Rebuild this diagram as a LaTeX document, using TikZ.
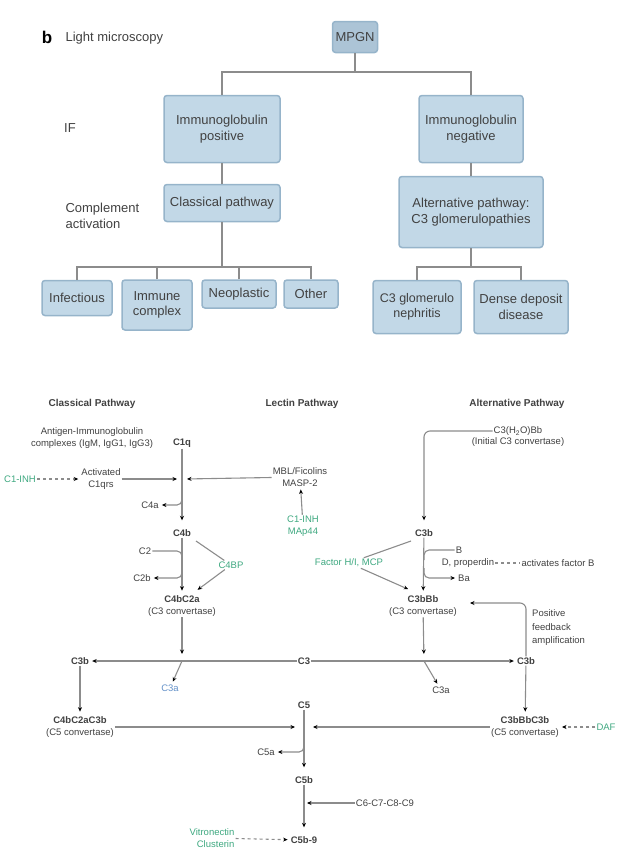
\documentclass[tikz,border=0pt]{standalone}
\usepackage{fontspec}
\setmainfont{Liberation Sans}
\usetikzlibrary{arrows.meta, positioning}
\definecolor{boxfill}{RGB}{194,216,231}
\definecolor{boxedge}{RGB}{150,180,202}
\definecolor{mpgnfill}{RGB}{172,196,214}
\definecolor{treegray}{RGB}{140,140,140}
\definecolor{inkgray}{RGB}{65,65,65}
\definecolor{inhgreen}{RGB}{62,168,128}
\definecolor{fragblue}{RGB}{100,145,200}

\begin{document}
\begin{tikzpicture}[x=1pt, y=-1pt,
box/.style={rectangle, draw=boxedge, line width=1.5pt, fill=boxfill, rounded corners=3pt, align=center, text=inkgray, font=\fontsize{13}{15.5}\selectfont, inner sep=2pt},
tree/.style={draw=treegray, line width=1.8pt},
side/.style={text=inkgray, font=\fontsize{13}{16}\selectfont, align=left},
mol/.style={text=inkgray, font=\fontsize{9.5}{11.5}\selectfont, align=center, inner sep=1pt},
inh/.style={mol, text=inhgreen},
head/.style={mol, font=\fontsize{10}{12}\selectfont\bfseries},
link/.style={draw=treegray, line width=1.1pt},
arrow/.style={link, -{Stealth[length=4.5pt, width=4pt, color=black]}, shorten >=2pt}]
\useasboundingbox (0,0) rectangle (626,857);

\node[font=\fontsize{17}{17}\selectfont\bfseries] (tag) at (47,37) {b};
\node[side, anchor=west] (lm) at (62,38) {Light microscopy};
\node[box, fill=mpgnfill, minimum width=45pt, minimum height=31pt] (mpgn) at (355,37) {MPGN};
\node[side] (iflbl) at (70,128) {IF};
\node[box, minimum width=116pt, minimum height=67pt] (igpos) at (222,129) {Immunoglobulin\\positive};
\node[box, minimum width=104pt, minimum height=67pt] (igneg) at (471,129) {Immunoglobulin\\negative};
\node[side, anchor=west] (compact) at (62,216) {Complement\\activation};
\node[box, minimum width=116pt, minimum height=37pt] (classical) at (222,203) {Classical pathway};
\node[box, minimum width=144pt, minimum height=71pt] (altpw) at (471,212) {Alternative pathway:\\C3 glomerulopathies};
\node[box, minimum width=70pt, minimum height=35pt] (infect) at (77,298) {Infectious};
\node[box, minimum width=70pt, minimum height=50pt] (immune) at (157,305) {Immune\\complex};
\node[box, minimum width=74pt, minimum height=28pt] (neo) at (239,294) {Neoplastic};
\node[box, minimum width=54pt, minimum height=28pt] (other) at (311,294) {Other};
\node[box, minimum width=88pt, minimum height=53pt, font=\fontsize{12.5}{15}\selectfont] (c3gn) at (417,307) {C3 glomerulo\\nephritis};
\node[box, minimum width=94pt, minimum height=53pt] (ddd) at (521,307) {Dense deposit\\disease};
\coordinate (bus1) at (0,72);
\coordinate (bus2) at (0,267);
\draw[tree] (mpgn.south) -- (mpgn.south |- bus1);
\draw[tree] (igpos.north) -- (igpos.north |- bus1) -- (igneg.north |- bus1) -- (igneg.north);
\draw[tree] (igpos.south) -- (classical.north);
\draw[tree] (classical.south) -- (classical.south |- bus2);
\draw[tree] (infect.north) -- (infect.north |- bus2) -- (other.north |- bus2) -- (other.north);
\draw[tree] (immune.north) -- (immune.north |- bus2);
\draw[tree] (neo.north) -- (neo.north |- bus2);
\draw[tree] (igneg.south) -- (altpw.north);
\draw[tree] (altpw.south) -- (altpw.south |- bus2);
\draw[tree] (c3gn.north) -- (c3gn.north |- bus2) -- (ddd.north |- bus2) -- (ddd.north);

\node[head] (clhead) at (92,404) {Classical Pathway};
\node[head] (lechead) at (302,404) {Lectin Pathway};
\node[head] (althead) at (517,404) {Alternative Pathway};
\node[mol] (agab) at (92,438) {Antigen-Immunoglobulin\\complexes (IgM, IgG1, IgG3)};
\node[mol] (c1q) at (182,443) {\textbf{C1q}};
\node[mol] (c1qrs) at (101,479) {Activated\\C1qrs};
\node[inh] (c1inh) at (20,479) {C1-INH};
\node[mol] (mbl) at (300,477) {MBL/Ficolins\\MASP-2};
\node[inh] (mblinh) at (303,526) {C1-INH\\MAp44};
\coordinate (jc1) at (182,479);
\node[mol] (c4a) at (150,505) {C4a};
\coordinate (jc4a) at (182,492);
\node[mol] (c4b) at (182,533) {\textbf{C4b}};
\node[mol] (c2) at (145,551) {C2};
\coordinate (jc2) at (182,563);
\node[mol] (c2b) at (142,578) {C2b};
\coordinate (jc2b) at (182,566);
\node[mol] (c4b2a) at (182,606) {\textbf{C4bC2a}\\(C3 convertase)};
\node[inh] (c4bp) at (231,565) {C4BP};
\coordinate (c4bpup) at (196,541);
\coordinate (c4bplow) at (196,591);

\node[mol] (c3h2o) at (518,431) {C3(H\textsubscript{2}O)Bb};
\node[mol, below=0pt of c3h2o] (c3h2oconv) {(Initial C3 convertase)};
\node[mol] (c3b) at (424,533) {\textbf{C3b}};
\node[mol] (fb) at (459,550) {B};
\coordinate (jb) at (424,560);
\node[mol] (fd) at (468,563) {D, properdin};
\node[mol] (fdact) at (558,563) {activates factor B};
\node[mol] (ba) at (464,578) {Ba};
\coordinate (jba) at (424,568);
\node[mol] (c3bbb) at (423,606) {\textbf{C3bBb}\\(C3 convertase)};
\node[inh] (fh) at (349,563) {Factor H/I, MCP};
\coordinate (fhup) at (411,541);
\coordinate (fhlow) at (410,590);
\coordinate (fbend) at (468,603);
\node[mol, anchor=west, align=left, font=\fontsize{9.5}{13.5}\selectfont] (posfb) at (531,628) {Positive\\feedback\\amplification};

\node[mol] (c3) at (304,661) {\textbf{C3}};
\node[mol] (c3bL) at (80,661) {\textbf{C3b}};
\node[mol] (c3bR) at (526,661) {\textbf{C3b}};
\coordinate (jl) at (182,661);
\coordinate (jr) at (424,661);
\node[mol, text=fragblue] (c3aL) at (170,688) {C3a};
\node[mol] (c3aR) at (441,690) {C3a};
\node[mol] (c5convL) at (80,727) {\textbf{C4bC2aC3b}\\(C5 convertase)};
\node[mol] (c5convR) at (525,727) {\textbf{C3bBbC3b}\\(C5 convertase)};
\node[inh] (daf) at (606,727) {DAF};
\node[mol] (c5) at (304,705) {\textbf{C5}};
\node[mol] (c5a) at (266,752) {C5a};
\coordinate (jc5a) at (304,742);
\node[mol] (c5b) at (304,780) {\textbf{C5b}};
\node[mol] (c6) at (385,803) {C6-C7-C8-C9};
\node[mol] (c5b9) at (304,840) {\textbf{C5b-9}};
\node[inh, align=right] (vitro) at (212,838) {Vitronectin\\Clusterin};

\draw[arrow, shorten >=8pt] (c1q) -- (c4b);
\draw[arrow, dashed] (c1inh) -- (c1qrs);
\draw[arrow] (c1qrs) -- ([xshift=-3pt]jc1);
\draw[arrow] (mbl) -- ([xshift=3pt]jc1);
\draw[arrow] (mblinh) -- (mbl);
\draw[arrow, rounded corners=5pt] (jc4a) |- (c4a);
\draw[link, rounded corners=5pt] (c2) -| (jc2);
\draw[arrow, rounded corners=5pt] (jc2b) |- (c2b);
\draw[arrow, shorten >=4pt] (c4b) -- (c4b2a);
\draw[link] (c4bp) -- (c4bpup);
\draw[arrow] (c4bp) -- (c4bplow);
\draw[arrow, shorten >=7pt] (c4b2a) -- (jl);

\draw[arrow, rounded corners=6pt, shorten >=8pt] (c3h2o) -| (c3b);
\draw[link, rounded corners=5pt] (fb) -| (jb);
\draw[link, dashed] (fd) -- (fdact);
\draw[arrow, rounded corners=5pt] (jba) |- (ba);
\draw[arrow, shorten >=4pt] (c3b) -- (c3bbb);
\draw[link] (fh) -- (fhup);
\draw[arrow] (fh) -- (fhlow);
\draw[arrow, shorten >=7pt] (c3bbb) -- (jr);
\draw[arrow, rounded corners=6pt] (c3bR) |- (fbend);

\draw[arrow] (c3) -- (c3bL);
\draw[arrow] (c3) -- (c3bR);
\draw[arrow] (jl) -- (c3aL);
\draw[arrow] (jr) -- (c3aR);
\draw[arrow, shorten >=4pt] (c3bL) -- (c5convL);
\draw[arrow, shorten >=4pt] (c3bR) -- (c5convR);
\draw[arrow, dashed] (daf) -- (c5convR);
\draw[arrow, shorten >=9pt] (c5convL) -- (c5 |- c5convL);
\draw[arrow, shorten >=9pt] (c5convR) -- (c5 |- c5convR);
\draw[arrow, shorten >=8pt] (c5) -- (c5b);
\draw[arrow, rounded corners=5pt] (jc5a) |- (c5a);
\draw[arrow, shorten >=3pt] (c6) -- (c6 -| c5b);
\draw[arrow, shorten >=8pt] (c5b) -- (c5b9);
\draw[arrow, dashed] (vitro) -- (c5b9);
\end{tikzpicture}
\end{document}
